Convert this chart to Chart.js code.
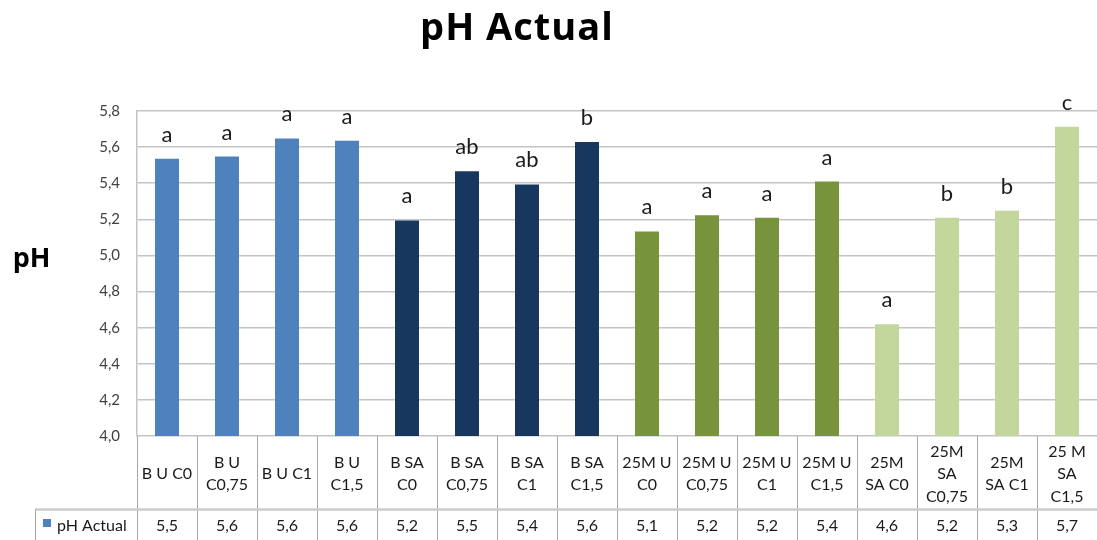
<!DOCTYPE html>
<html>
<head>
<meta charset="utf-8">
<script src="https://cdn.jsdelivr.net/npm/chart.js@4.4.1/dist/chart.umd.min.js"></script>
<style>
  html, body { margin: 0; padding: 0; background: #ffffff; }
  #wrap { position: relative; width: 1097px; height: 540px; }
</style>
</head>
<body>
<div id="wrap"><canvas id="c" width="1097" height="540"></canvas></div>
<script>
// ---- data ----
const categories = [
  ["B U C0"], ["B U", "C0,75"], ["B U C1"], ["B U", "C1,5"],
  ["B SA", "C0"], ["B SA", "C0,75"], ["B SA", "C1"], ["B SA", "C1,5"],
  ["25M U", "C0"], ["25M U", "C0,75"], ["25M U", "C1"], ["25M U", "C1,5"],
  ["25M", "SA C0"], ["25M", "SA", "C0,75"], ["25M", "SA C1"], ["25 M", "SA", "C1,5"]
];
const phValues = [5.535, 5.548, 5.648, 5.635, 5.194, 5.467, 5.393, 5.628,
                  5.133, 5.222, 5.209, 5.409, 4.619, 5.209, 5.248, 5.713];
const tableValues = ["5,5", "5,6", "5,6", "5,6", "5,2", "5,5", "5,4", "5,6",
                     "5,1", "5,2", "5,2", "5,4", "4,6", "5,2", "5,3", "5,7"];
const letters = ["a", "a", "a", "a", "a", "ab", "ab", "b",
                 "a", "a", "a", "a", "a", "b", "b", "c"];
const seriesName = "pH Actual";
const chartTitle = "pH Actual";
const yTitle = "pH";
const yMin = 4.0, yMax = 5.8, yStep = 0.2;

// ---- styles ----
const groupColors = ["#4F81BD", "#17375E", "#77933C", "#C3D69B"];
const barColors = categories.map((_, i) => groupColors[Math.floor(i / 4)]);
const FONT = "Lato, 'Open Sans', sans-serif";
const TITLE_FONT = "'Open Sans', Lato, sans-serif";
const gridColor = "#c4c4c4";
const tableLine = "#a8a8a8";

const overlay = {
  id: "overlay",
  afterDraw(chart) {
    const ctx = chart.ctx;
    const area = chart.chartArea;
    const meta = chart.getDatasetMeta(0);
    const W = chart.width;
    ctx.save();
    // title
    ctx.fillStyle = "#000";
    ctx.font = "bold 38px " + TITLE_FONT;
    ctx.textAlign = "center";
    ctx.textBaseline = "alphabetic";
    try { ctx.letterSpacing = "1px"; } catch (e) {}
    ctx.fillText(chartTitle, 517, 40);
    try { ctx.letterSpacing = "0px"; } catch (e) {}
    // y title
    ctx.font = "bold 27px " + TITLE_FONT;
    ctx.fillText(yTitle, 31.5, 266.5);
    // letters above bars
    ctx.font = "22px " + FONT;
    ctx.fillStyle = "#1a1a1a";
    meta.data.forEach((bar, i) => {
      ctx.fillText(letters[i], bar.x, bar.y - 17);
    });
    // table
    const n = categories.length;
    const colW = (area.right - area.left) / n;
    const rowTop = area.bottom;
    const sepY = 509.5;
    ctx.strokeStyle = tableLine;
    ctx.lineWidth = 1;
    for (let i = 0; i <= n; i++) {
      const x = Math.round(area.left + i * colW) + 0.5;
      ctx.beginPath();
      ctx.moveTo(x, rowTop);
      ctx.lineTo(x, chart.height);
      ctx.stroke();
    }
    ctx.lineWidth = 2.5;
    ctx.strokeStyle = "#cccccc";
    ctx.beginPath();
    ctx.moveTo(35, sepY);
    ctx.lineTo(W, sepY);
    ctx.stroke();
    ctx.lineWidth = 1;
    ctx.strokeStyle = tableLine;
    ctx.beginPath();
    ctx.moveTo(35.5, sepY);
    ctx.lineTo(35.5, chart.height);
    ctx.stroke();
    // category labels
    ctx.font = "16px " + FONT;
    ctx.fillStyle = "#1a1a1a";
    ctx.textBaseline = "middle";
    ctx.textAlign = "center";
    const lh = 22.5;
    const rowMid = 474;
    categories.forEach((lines, i) => {
      const cx = meta.data[i].x;
      const start = rowMid - (lines.length - 1) * lh / 2;
      lines.forEach((t, k) => ctx.fillText(t, cx, start + k * lh));
    });
    // values row
    tableValues.forEach((t, i) => {
      ctx.fillText(t, meta.data[i].x, 526);
    });
    // legend key
    ctx.fillStyle = groupColors[0];
    ctx.fillRect(43, 519, 8, 8);
    ctx.fillStyle = "#1a1a1a";
    ctx.textAlign = "left";
    ctx.fillText(seriesName, 57, 526);
    ctx.restore();
  }
};

new Chart(document.getElementById("c"), {
  type: "bar",
  data: {
    labels: categories,
    datasets: [{
      label: seriesName,
      data: phValues,
      backgroundColor: barColors,
      borderWidth: 0,
      barPercentage: 0.4,
      categoryPercentage: 1.0
    }]
  },
  options: {
    responsive: false,
    animation: false,
    layout: { padding: { top: 111, bottom: 104, left: 0, right: 0 } },
    plugins: {
      legend: { display: false },
      title: { display: false },
      tooltip: { enabled: false }
    },
    scales: {
      x: { display: false },
      y: {
        min: yMin, max: yMax,
        afterFit(s) { s.width = 137; },
        border: { display: true, color: gridColor, width: 1.5 },
        grid: { color: gridColor, lineWidth: 1.5, drawTicks: false },
        ticks: {
          stepSize: yStep,
          padding: 17,
          color: "#404040",
          font: { family: FONT, size: 15 },
          callback: v => v.toFixed(1).replace(".", ",")
        }
      }
    }
  },
  plugins: [overlay]
});
</script>
</body>
</html>
